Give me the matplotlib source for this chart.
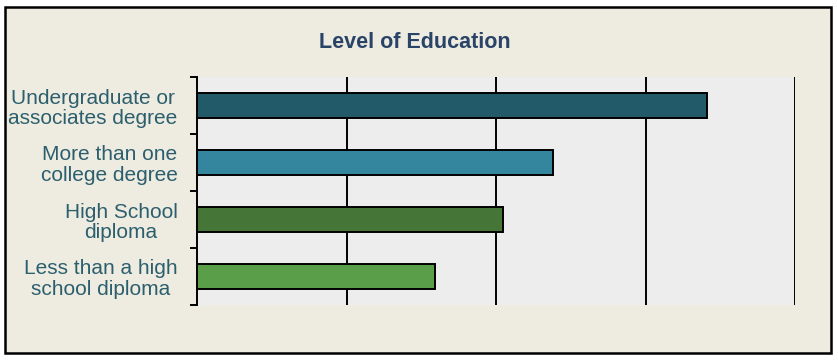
import matplotlib
matplotlib.use("Agg")
import matplotlib.pyplot as plt
from matplotlib.patches import Rectangle

# data (top to bottom)
categories = ["Undergraduate or\nassociates degree",
              "More than one\ncollege degree",
              "High School\ndiploma",
              "Less than a high\nschool diploma"]
values = [34.1, 23.8, 20.5, 15.9]
colors = ["#235A6A", "#33869E", "#467538", "#5A9E4A"]

text_col = "#2C5F6E"
title_col = "#2A4468"

fig = plt.figure(figsize=(8.38, 3.62), dpi=100)
fig.patch.set_facecolor("white")

# chart frame
frame = Rectangle((5 / 838, 1 - 353 / 362), 826 / 838, 346 / 362,
                  transform=fig.transFigure, facecolor="#EEEBE0",
                  edgecolor="black", lw=1.8, zorder=-1)
fig.patches.append(frame)

ax = fig.add_axes([197 / 838, 1 - 305 / 362, 598 / 838, 228 / 362])
ax.set_facecolor("#EDEDED")

ypos = list(range(len(categories)))
ax.barh(ypos, values, height=0.43, color=colors, edgecolor="black",
        linewidth=1.4, zorder=3)

ax.set_xlim(0, 40)
ax.set_ylim(len(categories) - 0.5, -0.5)
ax.set_xticks([10, 20, 30, 40])
ax.set_xticklabels([])
ax.tick_params(axis="x", length=0)
ax.grid(axis="x", color="black", lw=1.4, zorder=1)

ax.set_yticks(ypos)
ax.set_yticklabels(categories, color=text_col, fontsize=15,
                   family="Liberation Sans", linespacing=1.1,
                   multialignment="center")
ax.tick_params(axis="y", which="major", length=0, pad=14)
ax.set_yticks([i - 0.5 for i in range(len(categories) + 1)], minor=True)
ax.tick_params(axis="y", which="minor", length=5, width=1.4, color="black")

for s in ["top", "right", "bottom"]:
    ax.spines[s].set_visible(False)
ax.spines["left"].set_linewidth(1.4)

fig.text(415 / 838, 1 - 43 / 362, "Level of Education", ha="center", va="center",
         fontsize=15.5, fontweight="bold", color=title_col,
         family="Liberation Sans")

fig.savefig("out.png", dpi=100)
